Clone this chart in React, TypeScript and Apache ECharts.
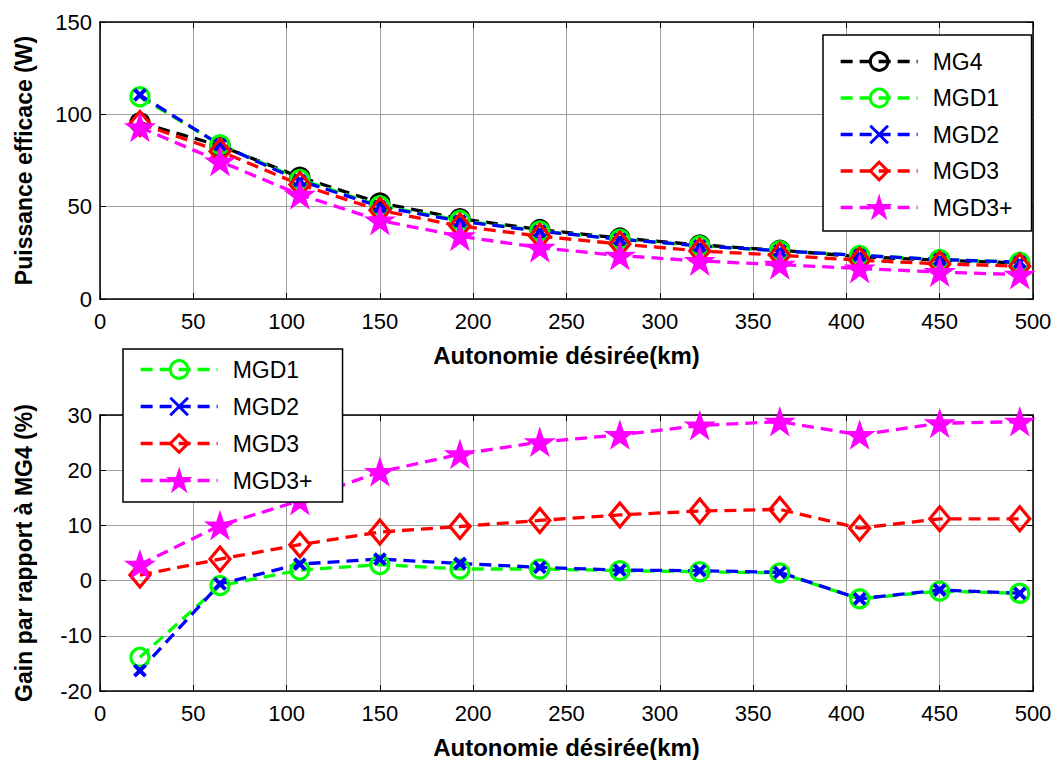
import React, { useEffect, useRef } from "react";
import * as echarts from "echarts";

// X positions (Autonomie désirée, km)
const autonomie = [21.4, 64.3, 107.1, 150, 192.9, 235.7, 278.6, 321.4, 364.3, 407.1, 450, 492.9];

// Top plot: Puissance efficace (W)
const pMG4 = [95.5, 83, 66, 52, 43.5, 37.6, 33, 29.3, 26.4, 22.9, 21, 19.5];
const pMGD1 = [109.5, 83.6, 64.8, 50.5, 42.6, 36.8, 32.4, 28.8, 26.1, 23.6, 21.4, 19.9];
const pMGD2 = [110.5, 83.5, 64.1, 50, 42.2, 36.7, 32.4, 28.8, 26.1, 23.6, 21.4, 19.9];
const pMGD3 = [95, 80, 62, 48, 39.5, 34, 29.8, 26, 23.7, 21, 19, 17.8];
const pMGD3p = [93, 74.5, 56.5, 42.5, 34, 27.8, 23.5, 20.6, 18.6, 16.5, 14.6, 13.2];

// Bottom plot: Gain par rapport à MG4 (%)
const gMGD1 = [-13.9, -0.9, 1.9, 2.9, 2.1, 2.1, 1.8, 1.6, 1.4, -3.3, -1.9, -2.3];
const gMGD2 = [-16.3, -0.6, 3.0, 3.9, 3.1, 2.4, 1.9, 1.8, 1.5, -3.3, -1.7, -2.3];
const gMGD3 = [1.0, 3.9, 6.5, 8.8, 9.8, 10.9, 11.9, 12.6, 12.9, 9.5, 11.2, 11.2];
const gMGD3p = [2.9, 10, 14.5, 19.7, 22.9, 25.1, 26.4, 28.1, 28.8, 26.4, 28.5, 28.8];

const xTitle = "Autonomie désirée(km)";
const yTitleTop = "Puissance efficace (W)";
const yTitleBottom = "Gain par rapport à MG4 (%)";

const FONT = "'Liberation Sans', Arial, sans-serif";
const STAR =
  "path://M50,0 L61.2,34.55 L97.55,34.55 L68.2,55.9 L79.4,90.45 L50,69.1 L20.6,90.45 L31.8,55.9 L2.45,34.55 L38.8,34.55 Z";
const CROSS = "path://M0,0L10,10M10,0L0,10";

type Sty = { color: string; symbol: string; size: number | number[]; fill: string; bw: number };
const styles: Record<string, Sty> = {
  MG4: { color: "#000000", symbol: "circle", size: 18, fill: "rgba(0,0,0,0)", bw: 3.2 },
  MGD1: { color: "#00ff00", symbol: "circle", size: 18, fill: "rgba(0,0,0,0)", bw: 3.2 },
  MGD2: { color: "#0000ff", symbol: CROSS, size: 11, fill: "#0000ff", bw: 4 },
  MGD3: { color: "#ff0000", symbol: "diamond", size: [20, 24], fill: "rgba(0,0,0,0)", bw: 3.2 },
  "MGD3+": { color: "#ff00ff", symbol: STAR, size: 26, fill: "#ff00ff", bw: 2 },
};

function mkSeries(name: string, ys: number[], idx: number) {
  const s = styles[name];
  return {
    type: "line",
    name,
    xAxisIndex: idx,
    yAxisIndex: idx,
    data: autonomie.map((x, i) => [x, ys[i]]),
    symbol: s.symbol,
    symbolSize: s.size,
    symbolKeepAspect: true,
    showAllSymbol: true,
    lineStyle: { color: s.color, width: 3.3, type: [12, 7] },
    itemStyle: { color: s.fill, borderColor: s.color, borderWidth: s.bw },
    emphasis: { disabled: true },
    silent: true,
  };
}

function xAxes(gridIndex: number, top: boolean) {
  return {
    type: "value",
    gridIndex,
    position: top ? "top" : "bottom",
    min: 0,
    max: 500,
    interval: 50,
    name: top ? "" : xTitle,
    nameLocation: "middle",
    nameGap: 44,
    nameTextStyle: { fontFamily: FONT, fontWeight: "bold", fontSize: 24, color: "#000" },
    axisLine: { show: true, onZero: false, lineStyle: { color: "#000", width: 1.5 } },
    axisTick: { show: true, inside: true, length: 6, lineStyle: { color: "#000" } },
    axisLabel: { show: !top, fontFamily: FONT, fontSize: 22, color: "#000", margin: 11 },
    splitLine: { show: !top, lineStyle: { color: "#a0a0a0", width: 1 } },
  };
}

function yAxes(gridIndex: number, right: boolean, min: number, max: number, interval: number, title: string) {
  return {
    type: "value",
    gridIndex,
    position: right ? "right" : "left",
    min,
    max,
    interval,
    name: right ? "" : title,
    nameLocation: "middle",
    nameGap: 65,
    nameTextStyle: { fontFamily: FONT, fontWeight: "bold", fontSize: 23, color: "#000" },
    axisLine: { show: true, onZero: false, lineStyle: { color: "#000", width: 1.5 } },
    axisTick: { show: true, inside: true, length: 6, lineStyle: { color: "#000" } },
    axisLabel: { show: !right, fontFamily: FONT, fontSize: 22, color: "#000", margin: 8 },
    splitLine: { show: !right, lineStyle: { color: "#a0a0a0", width: 1 } },
  };
}

function mkLegend(names: string[], left: number, top: number, padding: number[], itemGap: number) {
  return {
    data: names,
    orient: "vertical",
    left,
    top,
    padding,
    itemGap,
    itemWidth: 77,
    itemHeight: 22,
    backgroundColor: "#ffffff",
    borderColor: "#000000",
    borderWidth: 1.5,
    borderRadius: 0,
    selectedMode: false,
    lineStyle: { width: 3.3 },
    itemStyle: { borderWidth: 3 },
    textStyle: { fontFamily: FONT, fontSize: 23, color: "#000", padding: [0, 0, 0, 10] },
  };
}

export default function App() {
  const ref = useRef<HTMLDivElement>(null);
  useEffect(() => {
    if (!ref.current) return;
    const chart = echarts.init(ref.current, null, { renderer: "svg" });
    chart.setOption({
      animation: false,
      backgroundColor: "#ffffff",
      grid: [
        { left: 100, top: 22, width: 933, height: 277, containLabel: false },
        { left: 100, top: 415, width: 933, height: 278, containLabel: false },
      ],
      xAxis: [xAxes(0, false), xAxes(0, true), xAxes(1, false), xAxes(1, true)],
      yAxis: [
        yAxes(0, false, 0, 150, 50, yTitleTop),
        yAxes(0, true, 0, 150, 50, ""),
        yAxes(1, false, -20, 30, 10, yTitleBottom),
        yAxes(1, true, -20, 30, 10, ""),
      ],
      legend: [
        mkLegend(["MG4", "MGD1", "MGD2", "MGD3", "MGD3+"], 823, 35, [15, 19, 12, 16], 13.5),
        mkLegend(["MGD1", "MGD2", "MGD3", "MGD3+"], 123, 349, [9, 30, 10, 16], 14),
      ],
      series: [
        mkSeries("MG4", pMG4, 0),
        mkSeries("MGD1", pMGD1, 0),
        mkSeries("MGD2", pMGD2, 0),
        mkSeries("MGD3", pMGD3, 0),
        mkSeries("MGD3+", pMGD3p, 0),
        mkSeries("MGD1", gMGD1, 2),
        mkSeries("MGD2", gMGD2, 2),
        mkSeries("MGD3", gMGD3, 2),
        mkSeries("MGD3+", gMGD3p, 2),
      ],
    });
    return () => chart.dispose();
  }, []);
  return (
    <div
      ref={ref}
      style={{ position: "fixed", left: 0, top: 0, width: 1064, height: 760, background: "#fff" }}
    />
  );
}
